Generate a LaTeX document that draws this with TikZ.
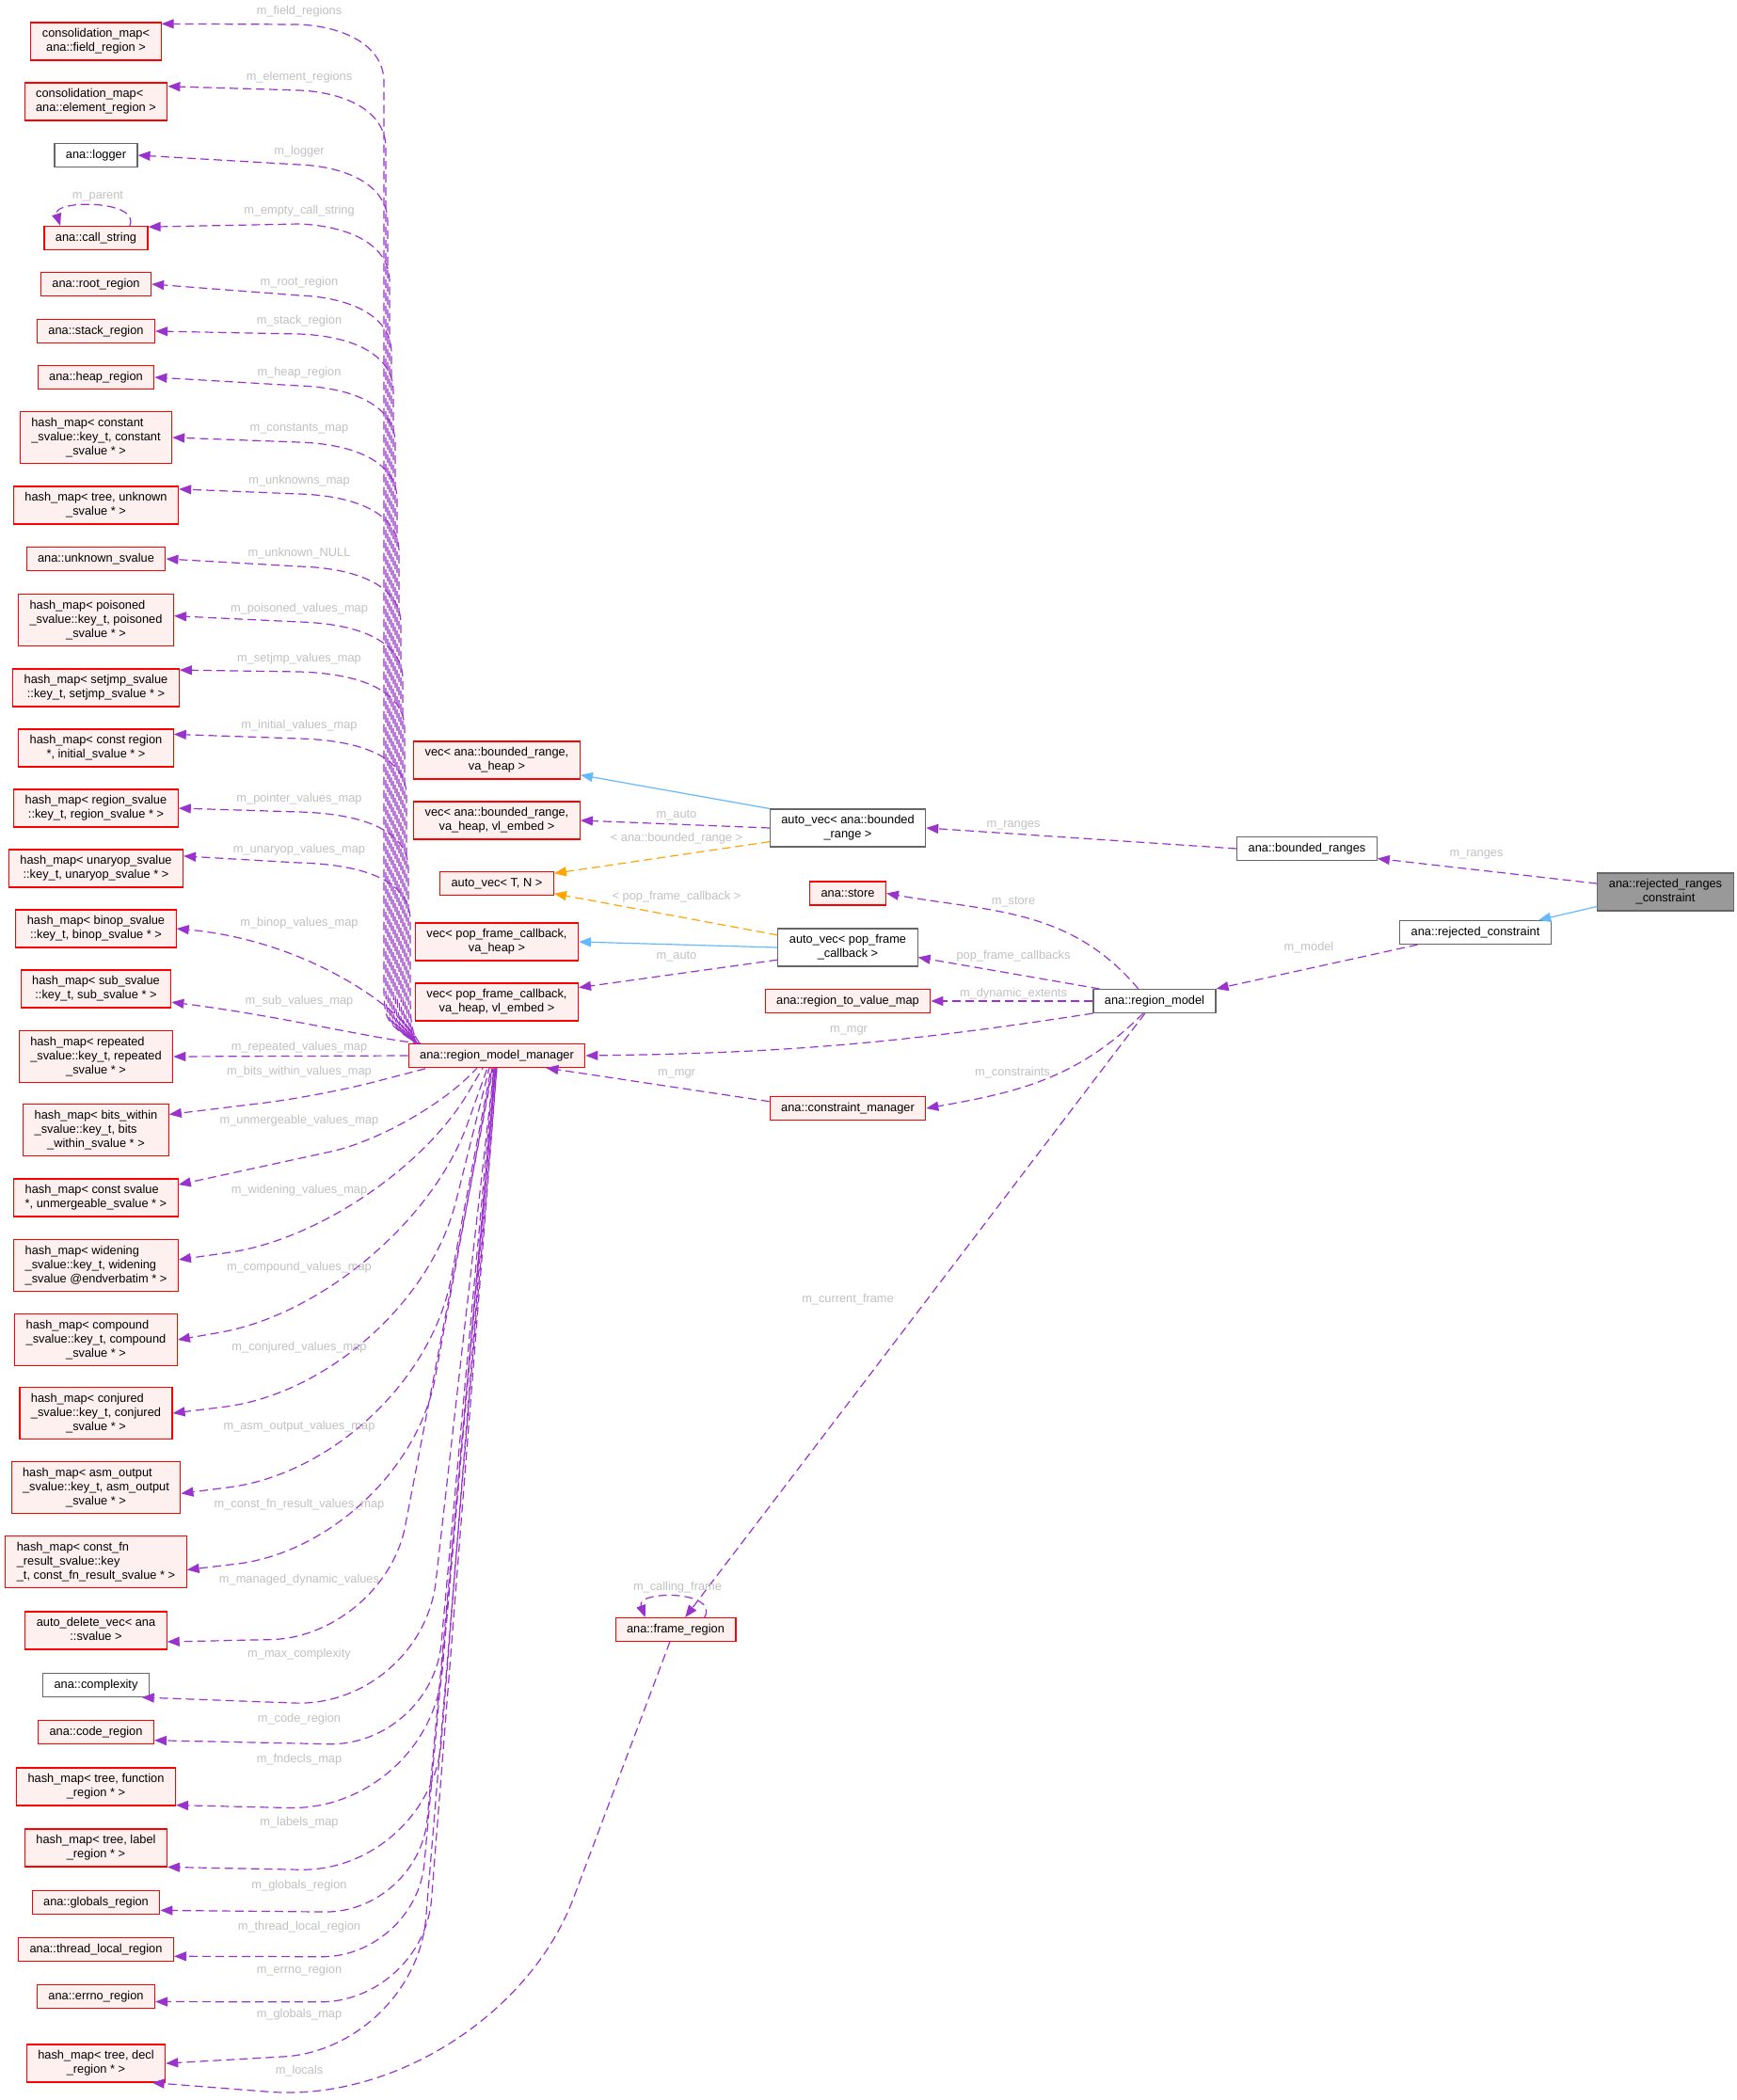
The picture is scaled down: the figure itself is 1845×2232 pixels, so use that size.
\documentclass[tikz,border=0pt]{standalone}
\usepackage{fontspec}
\setmainfont{Liberation Sans}
\usetikzlibrary{arrows.meta}
\definecolor{edgepurple}{HTML}{9A32CD}
\definecolor{inhblue}{HTML}{63B8FF}
\definecolor{tmplorange}{HTML}{FFA500}
\definecolor{lblgrey}{HTML}{C0C0C0}
\definecolor{boxfill}{HTML}{FFF0F0}
\definecolor{boxgrey}{HTML}{666666}
\definecolor{mainfill}{HTML}{999999}
\newcommand{\dlab}[2]{\begin{tabular}{@{}l@{}}#1\\\multicolumn{1}{@{}c@{}}{#2}\end{tabular}}
\tikzset{
  box/.style={draw, line width=1.1pt, inner xsep=12pt, inner ysep=5pt, minimum height=25pt, font=\fontsize{12.8}{15}\selectfont},
  rbox/.style={box, draw=red, fill=boxfill},
  gbox/.style={box, draw=boxgrey, fill=white},
  mainbox/.style={box, draw=boxgrey, fill=mainfill},
  usage/.style={edgepurple, line width=1.2pt, dash pattern=on 9pt off 5pt, -{Triangle[length=13pt,width=10pt]}},
  inh/.style={inhblue, line width=1.2pt, -{Triangle[length=13pt,width=10pt]}},
  tmpl/.style={tmplorange, line width=1.2pt, dash pattern=on 9pt off 5pt, -{Triangle[length=13pt,width=10pt]}},
  lbl/.style={lblgrey, inner sep=0pt, font=\fontsize{12.8}{15}\selectfont}
}

\begin{document}
\begin{tikzpicture}[x=1pt,y=-1pt]
\useasboundingbox (0,0) rectangle (1845,2232);
\foreach \i/\y/\sty/\txt in {
  1/44/rbox/{\dlab{consolidation\_map<}{ana::field\_region >}},
  2/108/rbox/{\dlab{consolidation\_map<}{ana::element\_region >}},
  3/165/gbox/{ana::logger},
  4/253/rbox/{ana::call\_string},
  5/302/rbox/{ana::root\_region},
  6/352/rbox/{ana::stack\_region},
  7/401/rbox/{ana::heap\_region},
  8/465/rbox/{\dlab{hash\_map< constant\\\_svalue::key\_t, constant}{\_svalue * >}},
  9/537/rbox/{\dlab{hash\_map< tree, unknown}{\_svalue * >}},
  10/594/rbox/{ana::unknown\_svalue},
  11/659/rbox/{\dlab{hash\_map< poisoned\\\_svalue::key\_t, poisoned}{\_svalue * >}},
  12/731/rbox/{\dlab{hash\_map< setjmp\_svalue}{::key\_t, setjmp\_svalue * >}},
  13/795/rbox/{\dlab{hash\_map< const region}{{*}, initial\_svalue * >}},
  14/859/rbox/{\dlab{hash\_map< region\_svalue}{::key\_t, region\_svalue * >}},
  15/923/rbox/{\dlab{hash\_map< unaryop\_svalue}{::key\_t, unaryop\_svalue * >}},
  16/987/rbox/{\dlab{hash\_map< binop\_svalue}{::key\_t, binop\_svalue * >}},
  17/1051/rbox/{\dlab{hash\_map< sub\_svalue}{::key\_t, sub\_svalue * >}},
  18/1123/rbox/{\dlab{hash\_map< repeated\\\_svalue::key\_t, repeated}{\_svalue * >}},
  19/1201/rbox/{\dlab{hash\_map< bits\_within\\\_svalue::key\_t, bits}{\_within\_svalue * >}},
  20/1273/rbox/{\dlab{hash\_map< const svalue}{{*}, unmergeable\_svalue * >}},
  21/1345/rbox/{\dlab{hash\_map< widening\\\_svalue::key\_t, widening}{\_svalue @endverbatim * >}},
  22/1424/rbox/{\dlab{hash\_map< compound\\\_svalue::key\_t, compound}{\_svalue * >}},
  23/1502/rbox/{\dlab{hash\_map< conjured\\\_svalue::key\_t, conjured}{\_svalue * >}},
  24/1581/rbox/{\dlab{hash\_map< asm\_output\\\_svalue::key\_t, asm\_output}{\_svalue * >}},
  25/1660/rbox/{\dlab{hash\_map< const\_fn\\\_result\_svalue::key}{\_t, const\_fn\_result\_svalue * >}},
  26/1733/rbox/{\dlab{auto\_delete\_vec< ana}{::svalue >}},
  27/1791/gbox/{ana::complexity},
  28/1841/rbox/{ana::code\_region},
  29/1899/rbox/{\dlab{hash\_map< tree, function}{\_region * >}},
  30/1964/rbox/{\dlab{hash\_map< tree, label}{\_region * >}},
  31/2022/rbox/{ana::globals\_region},
  32/2072/rbox/{ana::thread\_local\_region},
  33/2122/rbox/{ana::errno\_region},
  34/2193/rbox/{\dlab{hash\_map< tree, decl}{\_region * >}}}
  \node[\sty] (t\i) at (102,\y) {\txt};

\node[rbox] (vbh) at (528,808) {\dlab{vec< ana::bounded\_range,}{va\_heap >}};
\node[rbox] (vbe) at (528,872) {\dlab{vec< ana::bounded\_range,}{va\_heap, vl\_embed >}};
\node[rbox] (atn) at (528,939) {auto\_vec< T, N >};
\node[rbox] (vph) at (528,1001) {\dlab{vec< pop\_frame\_callback,}{va\_heap >}};
\node[rbox] (vpe) at (528,1065) {\dlab{vec< pop\_frame\_callback,}{va\_heap, vl\_embed >}};
\node[rbox] (rmm) at (528,1122) {ana::region\_model\_manager};
\node[gbox] (avb) at (901,880) {\dlab{auto\_vec< ana::bounded}{\_range >}};
\node[rbox] (store) at (901,949.5) {ana::store};
\node[gbox] (avp) at (901,1007) {\dlab{auto\_vec< pop\_frame}{\_callback >}};
\node[rbox] (rtvm) at (901,1064) {ana::region\_to\_value\_map};
\node[rbox] (cm) at (901,1178) {ana::constraint\_manager};
\node[gbox] (br) at (1389,902) {ana::bounded\_ranges};
\node[mainbox] (rrc) at (1770,948) {\dlab{ana::rejected\_ranges}{\_constraint}};
\node[gbox] (rc) at (1568,991) {ana::rejected\_constraint};
\node[gbox] (rm) at (1227,1064) {ana::region\_model};
\node[rbox] (fr) at (718,1732) {ana::frame\_region};

\foreach \i/\ang/\ly in {1/15/12,2/12/82,3/0/161,4/12/224,5/0/300,6/0/341,7/0/396,8/0/456,9/11/511,10/0/588,11/3/647,12/12/700,13/10/771,14/0/849,15/8/903}{
  \pgfmathsetmacro\bx{406+2*\i}
  \pgfmathsetmacro\ph{mod(5*\i,14)}
  \draw[usage, dash phase=\ph pt] ([xshift=9pt]rmm.north west) .. controls (\bx,1085) .. (\bx,1040) -- (\bx,\ly+75) .. controls (\bx,\ly+35) and (\bx-45,\ly+16) .. (318,\ly+14) -- (t\i.\ang);
}
\draw[usage] ([xshift=12pt]rmm.north west) .. controls (430,1075) and (330,1000) .. (t16.east);
\draw[usage] ([xshift=14pt]rmm.north west) .. controls (400,1105) and (300,1080) .. (t17.350);
\draw[usage] (rmm.west) -- (t18.east);
\foreach \i/\dx/\cx/\cy/\rad/\ang in {19/-73/340/1165/60/12,20/-21/439/1205/90/9,21/-15/412/1307/170/4,22/-10/430/1382/200/0,23/-8/436/1471/200/0,24/-6/442/1555/200/356,25/-5/430/1641/180/355,26/-4/408/1740/120/351,27/-3/448/1815/135/345,28/-3/459/1856/110/352,29/-2/457/1925/150/347,30/-2/458/1990/140/345,31/-1/445/2033/100/353,32/-1/442/2080/100/355,33/0/450/2128/110/355,34/0/441/2178/140/0}{
  \pgfmathsetmacro\ph{mod(5*\i,14)}
  \draw[usage, dash phase=\ph pt, rounded corners=\rad pt] ([xshift=\dx pt]rmm.south) -- (\cx,\cy) -- (t\i.\ang);
}
\draw[usage] (t4.20) .. controls (150,212) and (55,212) .. (t4.161);

\draw[inh] (avb.north west) -- (vbh.350);
\draw[usage] (avb.west) -- (vbe.east);
\draw[tmpl] (avb.190) -- (atn.10);
\draw[tmpl] (avp.170) -- (atn.350);
\draw[inh] (avp.west) -- (vph.east);
\draw[usage] (avp.190) -- (vpe.10);
\draw[usage] (br.west) -- (avb.east);
\draw[usage] (rrc.173) -- (br.352);
\draw[inh] (rrc.192) -- (rc.11);
\draw[usage] (rc.192) -- (rm.north east);
\draw[usage] (rm.143) to[out=130,in=-10] (store.east);
\draw[usage] ([xshift=7pt]rm.north west) -- (avp.352);
\draw[usage] (rm.west) -- (rtvm.east);
\draw[usage] (rm.south west) to[bend left=4] (rmm.east);
\draw[usage] (rm.227) to[out=-135,in=10] (cm.east);
\draw[usage] (cm.175) -- (rmm.346);
\draw[usage] (rm.232) -- (fr.52);
\draw[usage] (fr.23) .. controls (765,1690) and (675,1690) .. (fr.158);
\draw[usage, rounded corners=240pt] (fr.245) -- (525,2242) -- (t34.341);

\foreach \i/\ly/\txt in {1/12/m\_field\_regions,2/82/m\_element\_regions,3/161/m\_logger,4/224/m\_empty\_call\_string,5/300/m\_root\_region,6/341/m\_stack\_region,7/396/m\_heap\_region,8/456/m\_constants\_map,9/511/m\_unknowns\_map,10/588/m\_unknown\_NULL,11/647/m\_poisoned\_values\_map,12/700/m\_setjmp\_values\_map,13/771/m\_initial\_values\_map,14/849/m\_pointer\_values\_map,15/903/m\_unaryop\_values\_map,16/981/m\_binop\_values\_map,17/1064/m\_sub\_values\_map,18/1113/m\_repeated\_values\_map,19/1139/m\_bits\_within\_values\_map,20/1191/m\_unmergeable\_values\_map,21/1265/m\_widening\_values\_map,22/1347/m\_compound\_values\_map,23/1432/m\_conjured\_values\_map,24/1516/m\_asm\_output\_values\_map,25/1599/m\_const\_fn\_result\_values\_map,26/1679/m\_managed\_dynamic\_values,27/1758/m\_max\_complexity,28/1827/m\_code\_region,29/1870/m\_fndecls\_map,30/1937/m\_labels\_map,31/2004/m\_globals\_region,32/2048/m\_thread\_local\_region,33/2094/m\_errno\_region,34/2141/m\_globals\_map}
  \node[lbl] (l\i) at (318,\ly) {\txt};
\node[lbl] (lloc) at (318,2201) {m\_locals};
\node[lbl] (lpar) at (104,209) {m\_parent};
\node[lbl] (lcf) at (720,1687) {m\_calling\_frame};
\node[lbl] (lcur) at (901,1381) {m\_current\_frame};
\node[lbl] (la1) at (719,867) {m\_auto};
\node[lbl] (lt1) at (719,891) {< ana::bounded\_range >};
\node[lbl] (lt2) at (719,953) {< pop\_frame\_callback >};
\node[lbl] (la2) at (719,1017) {m\_auto};
\node[lbl] (lmg1) at (902,1095) {m\_mgr};
\node[lbl] (lmg2) at (719,1141) {m\_mgr};
\node[lbl] (lrg1) at (1077,877) {m\_ranges};
\node[lbl] (lrg2) at (1569,908) {m\_ranges};
\node[lbl] (lst) at (1077,959) {m\_store};
\node[lbl] (lmod) at (1391,1007) {m\_model};
\node[lbl] (lpfc) at (1077,1016) {pop\_frame\_callbacks};
\node[lbl] (lde) at (1077,1056) {m\_dynamic\_extents};
\node[lbl] (lcon) at (1076,1140) {m\_constraints};
\end{tikzpicture}
\end{document}
